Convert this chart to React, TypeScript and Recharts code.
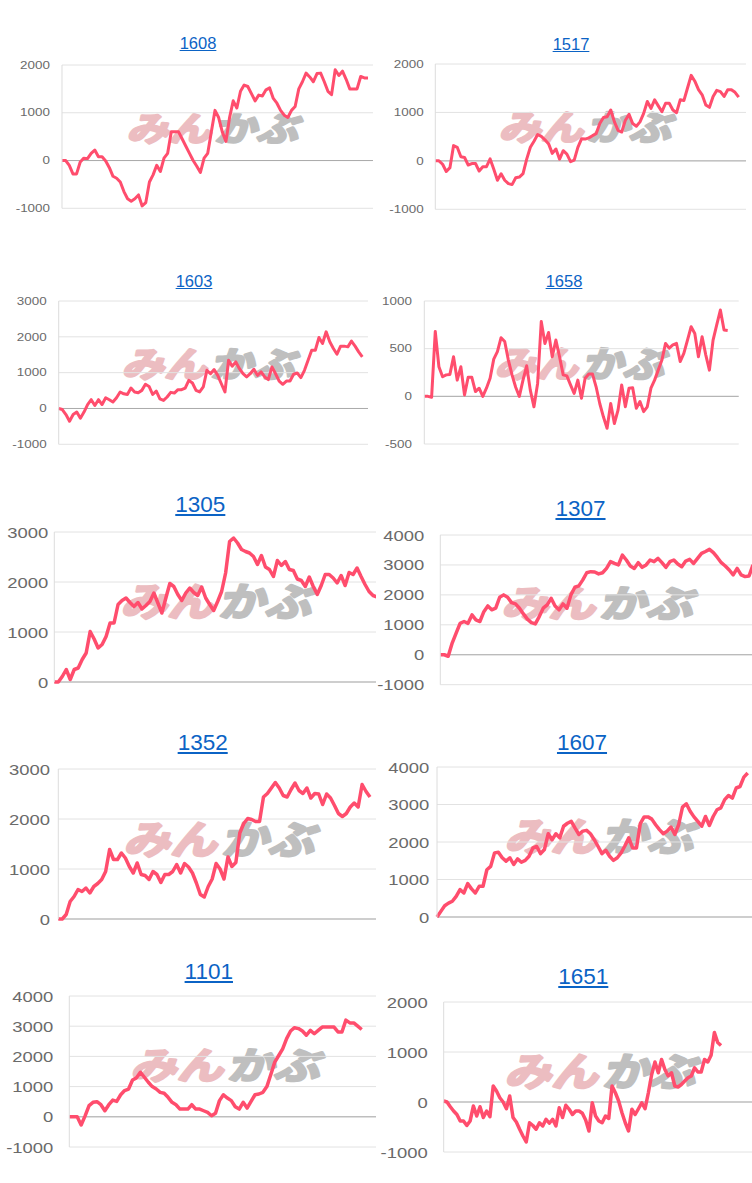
import React from "react";
import { LineChart, Line, XAxis, YAxis, CartesianGrid, ReferenceLine } from "recharts";

// cumulative P/L series, one per stock code
const s1608 = [0, 0, -100, -280, -280, -30, 50, 40, 150, 220, 80, 80, -10, -150, -330, -370, -450, -650, -800, -850, -800, -720, -950, -880, -450, -300, -100, -230, 50, 150, 600, 600, 600, 450, 300, 150, 0, -120, -250, 50, 150, 600, 1050, 900, 600, 400, 900, 1250, 1100, 1450, 1580, 1550, 1400, 1250, 1370, 1350, 1480, 1520, 1300, 1200, 1050, 950, 900, 1050, 1130, 1500, 1650, 1830, 1750, 1650, 1820, 1830, 1650, 1450, 1380, 1900, 1780, 1870, 1700, 1500, 1500, 1500, 1760, 1730, 1730];
const s1517 = [0, 0, -70, -220, -140, 315, 280, 85, 70, -85, -55, -55, -210, -120, -120, 40, -175, -400, -265, -400, -470, -490, -350, -335, -265, 35, 280, 405, 545, 505, 435, 350, 155, 245, 35, 210, 140, -15, 15, 280, 455, 450, 475, 520, 560, 770, 895, 910, 1050, 805, 630, 595, 840, 960, 770, 715, 805, 980, 1225, 1085, 1260, 1135, 1015, 1190, 1190, 1050, 995, 1260, 1245, 1505, 1765, 1645, 1470, 1365, 1155, 1105, 1330, 1455, 1430, 1330, 1470, 1470, 1415, 1315];
const s1603 = [0, -30, -170, -355, -170, -100, -270, -100, 110, 245, 85, 245, 110, 300, 245, 180, 300, 460, 410, 390, 570, 460, 440, 505, 675, 615, 390, 485, 270, 225, 320, 450, 430, 525, 525, 570, 785, 710, 505, 460, 600, 1065, 970, 1085, 925, 690, 460, 1345, 1180, 1300, 1110, 970, 880, 970, 1095, 925, 1020, 880, 805, 1160, 970, 765, 675, 765, 765, 955, 990, 860, 1065, 1345, 1625, 1625, 1980, 1815, 2140, 1860, 1675, 1515, 1740, 1740, 1720, 1880, 1740, 1580, 1440];
const s1658 = [0, 0, -10, 680, 310, 205, 225, 230, 415, 170, 310, 15, 200, 200, 50, 85, 0, 85, 190, 390, 470, 615, 575, 380, 225, 95, 0, 170, 320, 65, -110, 135, 785, 555, 670, 415, 590, 415, 225, 215, 120, 30, 170, -20, 190, 235, 235, 100, -75, -215, -335, -75, -285, -145, 120, -110, 85, 90, -125, -55, -160, -110, 85, 170, 275, 380, 555, 505, 540, 555, 365, 450, 590, 730, 660, 415, 625, 435, 275, 590, 750, 905, 695, 690];
const s1305 = [0, 0, 110, 250, 50, 250, 280, 450, 580, 1010, 860, 680, 750, 910, 1180, 1180, 1550, 1630, 1680, 1590, 1510, 1590, 1460, 1530, 1610, 1780, 1580, 1380, 1680, 1970, 1910, 1750, 1630, 1780, 1880, 1790, 1730, 1900, 1680, 1550, 1430, 1610, 1810, 2180, 2810, 2880, 2780, 2650, 2610, 2580, 2510, 2350, 2530, 2300, 2250, 2110, 2430, 2330, 2410, 2250, 2230, 2060, 2030, 1910, 2100, 1910, 1750, 1930, 2150, 2150, 2080, 1980, 2130, 1930, 2190, 2150, 2280, 2110, 1950, 1810, 1730, 1700];
const s1307 = [0, 0, -50, 390, 720, 1050, 1110, 1050, 1330, 1165, 1110, 1440, 1630, 1500, 1555, 1920, 2000, 1920, 1740, 1700, 1555, 1365, 1190, 1075, 1030, 1275, 1555, 1665, 1885, 1630, 1500, 1700, 1555, 2000, 2255, 2300, 2500, 2740, 2775, 2765, 2700, 2740, 2885, 3110, 3050, 3000, 3330, 3165, 2965, 2885, 3075, 2920, 3000, 3165, 3110, 3220, 3075, 2920, 3110, 3165, 3030, 2940, 3130, 3185, 3050, 3220, 3385, 3450, 3520, 3410, 3250, 3075, 2965, 2830, 2665, 2885, 2665, 2610, 2630, 3000];
const s1352 = [0, 0, 90, 350, 450, 590, 550, 620, 520, 650, 710, 790, 950, 1390, 1190, 1190, 1320, 1220, 1050, 920, 1120, 890, 870, 790, 950, 890, 730, 890, 890, 950, 1090, 920, 1110, 1040, 920, 720, 490, 440, 650, 800, 1110, 1000, 800, 1240, 1050, 1130, 1720, 1910, 2010, 1990, 1950, 1950, 2440, 2510, 2620, 2730, 2620, 2470, 2440, 2590, 2720, 2570, 2510, 2620, 2420, 2510, 2500, 2290, 2500, 2420, 2270, 2110, 2050, 2110, 2240, 2320, 2240, 2690, 2550, 2440];
const s1607 = [0, 150, 300, 370, 420, 550, 730, 640, 890, 750, 640, 820, 820, 1260, 1350, 1710, 1725, 1580, 1490, 1580, 1400, 1550, 1460, 1510, 1620, 1840, 1880, 1690, 1800, 2220, 2060, 2220, 2110, 2420, 2500, 2550, 2370, 2200, 2290, 2310, 2220, 2060, 1880, 1690, 1780, 1620, 1510, 1580, 1710, 1900, 2110, 1840, 1840, 2490, 2670, 2670, 2610, 2460, 2330, 2220, 2290, 2400, 2200, 2460, 2930, 3020, 2820, 2670, 2550, 2420, 2680, 2440, 2680, 2860, 2910, 3130, 3240, 3170, 3440, 3480, 3730, 3840];
const s1101 = [0, 0, 0, -270, 30, 370, 480, 500, 400, 200, 400, 555, 510, 730, 870, 920, 1220, 1290, 1475, 1310, 1145, 1000, 920, 810, 780, 645, 480, 400, 255, 255, 255, 400, 255, 255, 200, 145, 35, 120, 535, 730, 620, 535, 335, 255, 480, 290, 510, 730, 755, 810, 1000, 1400, 1810, 2030, 2250, 2590, 2840, 2950, 2920, 2840, 2700, 2860, 2750, 2860, 2970, 2970, 2970, 2970, 2810, 2810, 3200, 3110, 3110, 3000, 2890];
const s1651 = [20, 0, -95, -180, -250, -380, -380, -470, -380, -80, -280, -95, -310, -180, -295, 320, 220, 85, 0, -135, 120, -310, -400, -545, -680, -800, -415, -470, -545, -415, -480, -345, -425, -345, -480, -115, -310, -65, -145, -250, -180, -180, -225, -360, -580, -15, -280, -380, -415, -280, -330, 320, 185, 20, -215, -415, -580, -145, -250, -135, -15, -135, 185, 550, 800, 585, 850, 650, 520, 585, 320, 300, 350, 420, 485, 520, 685, 600, 600, 850, 800, 935, 1390, 1190, 1130];

const ticks2k = [-1000, 0, 1000, 2000];
const ticks3k = [-1000, 0, 1000, 2000, 3000];
const ticks1k = [-500, 0, 500, 1000];
const ticks0to3k = [0, 1000, 2000, 3000];
const ticks4k = [-1000, 0, 1000, 2000, 3000, 4000];
const ticks0to4k = [0, 1000, 2000, 3000, 4000];

const LINE = "#ff4d6d";
const PAD = 14; // room above/below the plot so edge tick labels are not cut

interface Panel {
  title: string;
  values: number[];
  ticks: number[];
  col: number;
  plotLeft: number;
  plotRight: number;
  lineEnd: number;
  top: number;
  bottom: number;
  labelEnd: number;
  big: boolean;
  titleX: number;
  titleBase: number;
  mark: [number, number, number, number];
}

// positions are relative to the column (each column is 376 wide)
const panels: Panel[] = [
  { title: "1608", values: s1608, ticks: ticks2k, col: 0, plotLeft: 62, plotRight: 373, lineEnd: 368, top: 65, bottom: 208.3, labelEnd: 50, big: false, titleX: 198, titleBase: 49, mark: [128, 112, 175, 30] },
  { title: "1517", values: s1517, ticks: ticks2k, col: 1, plotLeft: 59.3, plotRight: 370, lineEnd: 362.7, top: 63.7, bottom: 209, labelEnd: 47.7, big: false, titleX: 195, titleBase: 49.5, mark: [124, 110, 176, 31] },
  { title: "1603", values: s1603, ticks: ticks3k, col: 0, plotLeft: 58.7, plotRight: 368, lineEnd: 362.3, top: 301, bottom: 444.3, labelEnd: 46.7, big: false, titleX: 194, titleBase: 287, mark: [123, 347, 177, 31] },
  { title: "1658", values: s1658, ticks: ticks1k, col: 1, plotLeft: 48.3, plotRight: 362.7, lineEnd: 351.7, top: 301, bottom: 444, labelEnd: 36, big: false, titleX: 188, titleBase: 286.7, mark: [120, 346, 173, 32] },
  { title: "1305", values: s1305, ticks: ticks0to3k, col: 0, plotLeft: 54.3, plotRight: 392, lineEnd: 377, top: 532.3, bottom: 682.3, labelEnd: 48.3, big: true, titleX: 200.3, titleBase: 513, mark: [122, 582, 195, 35] },
  { title: "1307", values: s1307, ticks: ticks4k, col: 1, plotLeft: 64.3, plotRight: 392, lineEnd: 377, top: 535.3, bottom: 685, labelEnd: 48.3, big: true, titleX: 204.5, titleBase: 516.7, mark: [127, 585, 195, 33] },
  { title: "1352", values: s1352, ticks: ticks0to3k, col: 0, plotLeft: 58.3, plotRight: 392, lineEnd: 370, top: 769.3, bottom: 919.3, labelEnd: 50, big: true, titleX: 202.7, titleBase: 751, mark: [125, 820, 195, 35] },
  { title: "1607", values: s1607, ticks: ticks0to4k, col: 1, plotLeft: 61, plotRight: 392, lineEnd: 371.7, top: 767.3, bottom: 917.3, labelEnd: 53.3, big: true, titleX: 206, titleBase: 750.7, mark: [130, 817, 193, 35] },
  { title: "1101", values: s1101, ticks: ticks4k, col: 0, plotLeft: 69.3, plotRight: 392, lineEnd: 361.7, top: 995.7, bottom: 1146.7, labelEnd: 53.3, big: true, titleX: 208.8, titleBase: 979.3, mark: [132, 1047, 193, 33] },
  { title: "1651", values: s1651, ticks: ticks2k, col: 1, plotLeft: 67.7, plotRight: 392, lineEnd: 345, top: 1002.3, bottom: 1152.3, labelEnd: 51.7, big: true, titleX: 207.3, titleBase: 984.3, mark: [130, 1052, 195, 35] },
];

// the chart images in the source are stretched sideways, so the tick text is too
function StretchTick(props: any) {
  const { x, y, payload, fontSize, sx } = props;
  return (
    <text
      x={0}
      y={0}
      transform={`translate(${x},${y}) scale(${sx},1)`}
      textAnchor="end"
      dy="0.355em"
      fill="#6a6a6a"
      fontSize={fontSize}
      fontFamily="'Liberation Sans', Arial, sans-serif"
    >
      {payload.value}
    </text>
  );
}

function Watermark({ box }: { box: [number, number, number, number] }) {
  const [x, y, w, h] = box;
  const fs = h * 1.12;
  const half = w * 0.48;
  return (
    <svg style={{ position: "absolute", left: x, top: y, overflow: "visible" }} width={w} height={h}>
      <g
        fontFamily="'Noto Sans CJK JP', sans-serif"
        fontWeight={700}
        fontSize={fs}
        strokeLinejoin="round"
        transform={`translate(${h * 0.2},0) skewX(-14)`}
      >
        <text x={0} y={h - 1} textLength={half} lengthAdjust="spacingAndGlyphs" fill="#ecbdc1" stroke="#ecbdc1" strokeWidth={2.6}>
          みん
        </text>
        <text x={w * 0.5} y={h - 1} textLength={half} lengthAdjust="spacingAndGlyphs" fill="#bfbfbf" stroke="#bfbfbf" strokeWidth={2.6}>
          かぶ
        </text>
      </g>
    </svg>
  );
}

function PanelChart({ p }: { p: Panel }) {
  const data = p.values.map((v, i) => ({ i, v }));
  const n = p.values.length;
  const xMax = ((n - 1) * (p.plotRight - p.plotLeft)) / (p.lineEnd - p.plotLeft);
  const tickFont = p.big ? 15.5 : 10.5;
  const sx = p.big ? 1.19 : 1.28;
  const titleFont = p.big ? 22.5 : 16.5;
  const lo = p.ticks[0];
  const hi = p.ticks[p.ticks.length - 1];
  return (
    <>
      <Watermark box={p.mark} />
      <div
        style={{
          position: "absolute",
          left: p.titleX - 100,
          width: 200,
          top: p.titleBase - titleFont * 0.83,
          textAlign: "center",
          fontFamily: "'Liberation Sans', Arial, sans-serif",
          fontSize: titleFont,
          lineHeight: `${titleFont}px`,
          color: "#0b63c5",
          textDecoration: "underline",
        }}
      >
        {p.title}
      </div>
      <div style={{ position: "absolute", left: 0, top: p.top - PAD }}>
        <LineChart
          width={p.plotRight}
          height={p.bottom - p.top + PAD * 2}
          data={data}
          margin={{ top: PAD, right: 0, bottom: PAD, left: 0 }}
        >
          <CartesianGrid horizontal vertical={false} stroke="#e2e2e2" />
          <XAxis dataKey="i" type="number" domain={[0, xMax]} hide />
          <YAxis
            domain={[lo, hi]}
            ticks={p.ticks}
            interval={0}
            width={p.plotLeft}
            tickSize={0}
            tickMargin={p.plotLeft - p.labelEnd}
            tickLine={false}
            axisLine={{ stroke: "#dcdcdc" }}
            tick={<StretchTick fontSize={tickFont} sx={sx} />}
          />
          <ReferenceLine y={0} stroke="#ababab" />
          <Line
            type="linear"
            dataKey="v"
            stroke={LINE}
            strokeWidth={p.big ? 3.5 : 3}
            strokeLinejoin="round"
            dot={false}
            isAnimationActive={false}
          />
        </LineChart>
      </div>
    </>
  );
}

export default function App() {
  return (
    <div
      style={{
        position: "absolute",
        left: 0,
        top: 0,
        width: 752,
        height: 1183,
        overflow: "hidden",
        background: "#fff",
      }}
    >
      {[0, 1].map((col) => (
        <div
          key={col}
          style={{ position: "absolute", left: col * 376, top: 0, width: 376, height: 1183, overflow: "hidden" }}
        >
          {panels
            .filter((p) => p.col === col)
            .map((p) => (
              <PanelChart key={p.title} p={p} />
            ))}
        </div>
      ))}
    </div>
  );
}
